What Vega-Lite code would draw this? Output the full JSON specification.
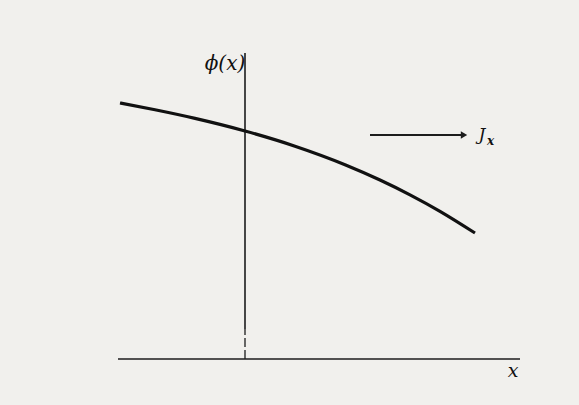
{
  "$schema": "https://vega.github.io/schema/vega-lite/v6.json",
  "width": 579,
  "height": 405,
  "autosize": {"type": "fit", "contains": "padding"},
  "padding": 0,
  "background": "#f1f0ed",
  "config": {"view": {"stroke": null}},
  "datasets": {
    "potential": [
      {"x": -1.25, "phi": 2.56},
      {"x": -0.9, "phi": 2.492},
      {"x": -0.5, "phi": 2.406},
      {"x": 0.0, "phi": 2.28},
      {"x": 0.5, "phi": 2.128},
      {"x": 1.0, "phi": 1.943},
      {"x": 1.35, "phi": 1.79},
      {"x": 1.65, "phi": 1.642},
      {"x": 1.95, "phi": 1.477},
      {"x": 2.3, "phi": 1.26}
    ],
    "axes": [
      {"x": -1.27, "x2": 2.75, "phi": 0, "phi2": 0, "part": "x-axis"},
      {"x": 0, "x2": 0, "phi": 0.3, "phi2": 3.06, "part": "phi-axis"}
    ],
    "axisBreak": [
      {"x": 0, "x2": 0, "phi": 0, "phi2": 0.3}
    ],
    "flux": [
      {"x": 1.25, "x2": 2.18, "phi": 2.24, "phi2": 2.24}
    ],
    "fluxHead": [
      {"x": 2.19, "phi": 2.24}
    ],
    "labels": [
      {"x": -0.2, "phi": 2.95, "text": "ϕ(x)", "size": 20, "weight": "normal"},
      {"x": 2.68, "phi": -0.12, "text": "x", "size": 19, "weight": "normal"},
      {"x": 2.37, "phi": 2.24, "text": "J", "size": 17, "weight": "bold"}
    ],
    "subscripts": [
      {"x": 2.455, "phi": 2.18, "text": "x", "size": 12}
    ]
  },
  "layer": [
    {
      "data": {"name": "axes"},
      "mark": {"type": "rule", "color": "#1c1c1c", "strokeWidth": 1.6},
      "encoding": {
        "x": {"field": "x", "type": "quantitative", "scale": {"domain": [-2.45, 3.34], "nice": false, "zero": false}, "axis": null},
        "x2": {"field": "x2"},
        "y": {"field": "phi", "type": "quantitative", "scale": {"domain": [-0.46, 3.59], "nice": false, "zero": false}, "axis": null},
        "y2": {"field": "phi2"}
      }
    },
    {
      "data": {"name": "axisBreak"},
      "mark": {"type": "rule", "color": "#1c1c1c", "strokeWidth": 1.3, "strokeDash": [9, 3]},
      "encoding": {
        "x": {"field": "x", "type": "quantitative"},
        "x2": {"field": "x2"},
        "y": {"field": "phi", "type": "quantitative"},
        "y2": {"field": "phi2"}
      }
    },
    {
      "data": {"name": "potential"},
      "mark": {"type": "line", "color": "#111111", "strokeWidth": 3.2, "interpolate": "monotone"},
      "encoding": {
        "x": {"field": "x", "type": "quantitative"},
        "y": {"field": "phi", "type": "quantitative"}
      }
    },
    {
      "data": {"name": "flux"},
      "mark": {"type": "rule", "color": "#1c1c1c", "strokeWidth": 2},
      "encoding": {
        "x": {"field": "x", "type": "quantitative"},
        "x2": {"field": "x2"},
        "y": {"field": "phi", "type": "quantitative"},
        "y2": {"field": "phi2"}
      }
    },
    {
      "data": {"name": "fluxHead"},
      "mark": {"type": "point", "shape": "triangle-right", "filled": true, "color": "#1c1c1c", "size": 55, "opacity": 1},
      "encoding": {
        "x": {"field": "x", "type": "quantitative"},
        "y": {"field": "phi", "type": "quantitative"}
      }
    },
    {
      "data": {"name": "labels"},
      "mark": {"type": "text", "font": "DejaVu Serif", "fontStyle": "italic", "color": "#111111", "align": "center", "baseline": "middle"},
      "encoding": {
        "x": {"field": "x", "type": "quantitative"},
        "y": {"field": "phi", "type": "quantitative"},
        "text": {"field": "text"},
        "size": {"field": "size", "type": "quantitative", "scale": null},
        "fontWeight": {"field": "weight", "type": "nominal", "scale": null}
      }
    },
    {
      "data": {"name": "subscripts"},
      "mark": {"type": "text", "font": "DejaVu Serif", "fontStyle": "italic", "fontWeight": "bold", "color": "#111111", "align": "center", "baseline": "middle"},
      "encoding": {
        "x": {"field": "x", "type": "quantitative"},
        "y": {"field": "phi", "type": "quantitative"},
        "text": {"field": "text"},
        "size": {"field": "size", "type": "quantitative", "scale": null}
      }
    }
  ]
}
